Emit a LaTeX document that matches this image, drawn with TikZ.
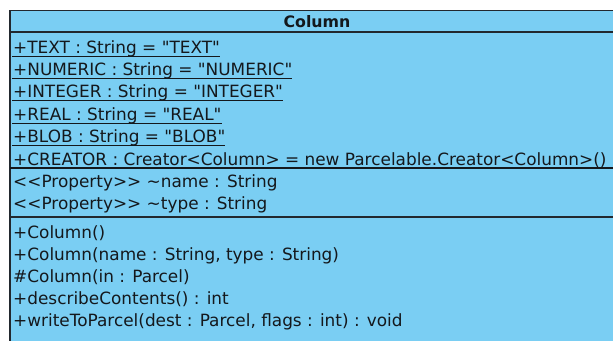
\documentclass[tikz,border=0pt]{standalone}
\usepackage{fontspec}
\setmainfont{DejaVu Sans}[Ligatures=TeXOff]
\definecolor{classfill}{RGB}{122,206,243}
\definecolor{classline}{RGB}{34,40,46}
\definecolor{classtext}{RGB}{20,24,28}
\begin{document}
\begin{tikzpicture}[x=1pt,y=-1pt,
  member/.style={anchor=base west,inner sep=0pt,text=classtext,
    font=\fontsize{16.9}{18}\selectfont},
  title/.style={anchor=base,inner sep=0pt,text=classtext,
    font=\fontsize{15.8}{18}\selectfont\bfseries},
  uline/.style={classtext,line width=0.9pt},
  sepline/.style={classline,line width=1.3pt}]
  % canvas
  \useasboundingbox (0,0) rectangle (613,340);
  \fill[white] (0,0) rectangle (613,340);
  % class box (runs past the right and bottom edges)
  \begin{scope}
    \clip (0,0) rectangle (613,340);
    \fill[classfill] (10,10.5) rectangle (630,350);
    \draw[classline,line width=1.4pt] (10,350) -- (10,10.5) -- (630,10.5);
    \draw[sepline] (10,32) -- (630,32);
    \draw[sepline] (10,217) -- (630,217);
  \end{scope}
  % class name
  \node[title] (name) at (317,27.5) {Column};
  % attributes
  \node[member] (a1) at (13,53) {+TEXT : String = "TEXT"};
  \node[member] (a2) at (13,75.5) {+NUMERIC : String = "NUMERIC"};
  \node[member] (a3) at (13,97.5) {+INTEGER : String = "INTEGER"};
  \node[member] (a4) at (13,120) {+REAL : String = "REAL"};
  \node[member] (a5) at (13,142.5) {+BLOB : String = "BLOB"};
  \node[member] (a6) at (13,165) {+CREATOR : Creator<Column> = new Parcelable.Creator<Column>()};
  \node[member] (a7) at (13,187.5) {<<Property>> \textasciitilde name : String};
  \node[member] (a8) at (13,209.5) {<<Property>> \textasciitilde type : String};
  % static members are underlined
  \foreach \n in {a1,a2,a3,a4,a5}
    \draw[uline] ([xshift=-1pt,yshift=-3pt]\n.base west) -- ([yshift=-3pt]\n.base east);
  \draw[uline,line width=1.2pt] ([xshift=-3pt,yshift=-3pt]a6.base west) -- ++(620,0);
  % operations
  \node[member] (o1) at (13,238.5) {+Column()};
  \node[member] (o2) at (13,260) {+Column(name : String, type : String)};
  \node[member] (o3) at (13,282.5) {\#Column(in : Parcel)};
  \node[member] (o4) at (13,304) {+describeContents() : int};
  \node[member] (o5) at (13,326) {+writeToParcel(dest : Parcel, flags : int) : void};
\end{tikzpicture}
\end{document}
